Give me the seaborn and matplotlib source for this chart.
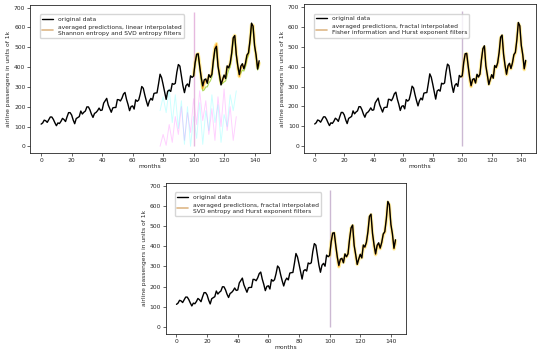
import matplotlib
matplotlib.use("Agg")
import matplotlib.pyplot as plt
import seaborn as sns
import numpy as np

# airline passengers (monthly, 1949-1960), units of 1k
passengers = [
    112, 118, 132, 129, 121, 135, 148, 148, 136, 119, 104, 118,
    115, 126, 141, 135, 125, 149, 170, 170, 158, 133, 114, 140,
    145, 150, 178, 163, 172, 178, 199, 199, 184, 162, 146, 166,
    171, 180, 193, 181, 183, 218, 230, 242, 209, 191, 172, 194,
    196, 196, 236, 235, 229, 243, 264, 272, 237, 211, 180, 201,
    204, 188, 235, 227, 234, 264, 302, 293, 259, 229, 203, 229,
    242, 233, 267, 269, 270, 315, 364, 347, 312, 274, 237, 278,
    284, 277, 317, 313, 318, 374, 413, 405, 355, 306, 271, 306,
    315, 301, 356, 348, 355, 422, 465, 467, 404, 347, 305, 336,
    340, 318, 362, 348, 363, 435, 491, 505, 404, 359, 310, 337,
    360, 342, 406, 396, 420, 472, 548, 559, 463, 407, 362, 405,
    417, 391, 419, 461, 472, 535, 622, 606, 508, 461, 390, 432,
]
months = list(range(len(passengers)))

# predictions start at month 100
pred_months = list(range(100, 144))

pred_linear_avg = [358, 420, 462, 468, 410, 350, 292, 320, 335, 325, 355, 352,
                   370, 440, 500, 518, 420, 362, 318, 330, 352, 348, 398, 400,
                   418, 470, 545, 560, 470, 400, 352, 390, 410, 398, 415, 455,
                   470, 530, 615, 610, 515, 455, 395, 420]
pred_linear_low = [355, 415, 455, 460, 395, 330, 280, 285, 300, 300, 320, 330,
                   350, 420, 480, 495, 410, 340, 312, 318, 325, 330, 360, 385,
                   400, 455, 530, 545, 455, 395, 360, 370, 385, 380, 400, 440,
                   460, 520, 605, 595, 500, 450, 385, 410]

pred_fisher_avg = [352, 418, 462, 465, 402, 340, 300, 328, 335, 320, 355, 350,
                   362, 432, 488, 500, 405, 355, 312, 335, 355, 345, 400, 395,
                   415, 468, 545, 555, 462, 402, 360, 395, 410, 390, 415, 455,
                   470, 530, 618, 602, 505, 455, 385, 425]
pred_svd_hurst_avg = [352, 420, 463, 465, 400, 342, 298, 330, 336, 320, 358, 348,
                      362, 432, 490, 502, 406, 352, 310, 334, 356, 343, 402, 394,
                      416, 468, 545, 556, 460, 400, 358, 398, 410, 388, 417, 456,
                      470, 532, 618, 604, 505, 456, 386, 426]

# faint individual runs (first panel)
noise_x = [78, 80, 82, 84, 86, 88, 90, 92, 94, 96, 98, 100, 102, 104, 106,
           108, 110, 112, 114, 116, 118, 120, 122, 124, 126, 128]
noise_pink = [0, 60, 5, 110, 20, 150, 60, 200, 30, 170, 70, 240, 110, 280,
              130, 230, 60, 190, 30, 250, 100, 290, 80, 200, 30, 150]
noise_cyan = [180, 250, 170, 290, 120, 260, 90, 230, 10, 200, 0, 150, 40,
              220, 10, 180, 80, 260, 120, 210, 20, 160, 100, 260, 180, 280]

labels = [
    "averaged predictions, linear interpolated\nShannon entropy and SVD entropy filters",
    "averaged predictions, fractal interpolated\nFisher information and Hurst exponent filters",
    "averaged predictions, fractal interpolated\nSVD entropy and Hurst exponent filters",
]

sns.set_style("ticks")
plt.rcParams['font.family'] = ['DejaVu Sans']
FS = 4.3

fig = plt.figure(figsize=(5.5, 3.51), dpi=100)
ax1 = fig.add_axes([0.055, 0.564, 0.436, 0.422])
ax2 = fig.add_axes([0.553, 0.564, 0.422, 0.424])
ax3 = fig.add_axes([0.301, 0.049, 0.438, 0.430])


def panel(ax, pred, label, low=None, noise=False, vcolor="#c0a8c8"):
    if noise:
        sns.lineplot(x=noise_x, y=noise_pink, ax=ax, color="magenta", alpha=0.18, lw=0.7)
        sns.lineplot(x=noise_x, y=noise_cyan, ax=ax, color="cyan", alpha=0.2, lw=0.7)
    ax.vlines(100, 0, 680, color=vcolor, lw=1.0, alpha=0.8)
    sns.lineplot(x=pred_months, y=pred, ax=ax, color="gold", alpha=0.35, lw=2.5)
    if low is not None:
        sns.lineplot(x=pred_months, y=low, ax=ax, color="yellowgreen", alpha=0.8, lw=0.8)
    sns.lineplot(x=pred_months, y=pred, ax=ax, color="darkorange", alpha=0.7, lw=0.9)
    sns.lineplot(x=months, y=passengers, ax=ax, color="black", lw=1.0, label="original data")
    # legend proxy for predictions
    ax.plot([], [], color="burlywood", lw=1.2, label=label)
    ax.legend(loc="upper left", fontsize=FS, frameon=True, borderaxespad=1.6,
              handlelength=1.8, fancybox=True)
    ax.set_xticks(range(0, 141, 20))
    ax.set_yticks(range(0, 701, 100))
    ax.tick_params(labelsize=FS, length=2, width=0.5, pad=1.5)
    ax.set_xlabel("months", fontsize=FS, labelpad=1)
    ax.set_ylabel("airline passengers in units of 1k", fontsize=FS, labelpad=2)
    for s in ax.spines.values():
        s.set_linewidth(0.6)
    ax.margins(x=0.05, y=0.05)


panel(ax1, pred_linear_avg, labels[0], low=pred_linear_low, noise=True, vcolor="#e0a8d8")
panel(ax2, pred_fisher_avg, labels[1])
panel(ax3, pred_svd_hurst_avg, labels[2])

fig.savefig("out.png", dpi=100)
